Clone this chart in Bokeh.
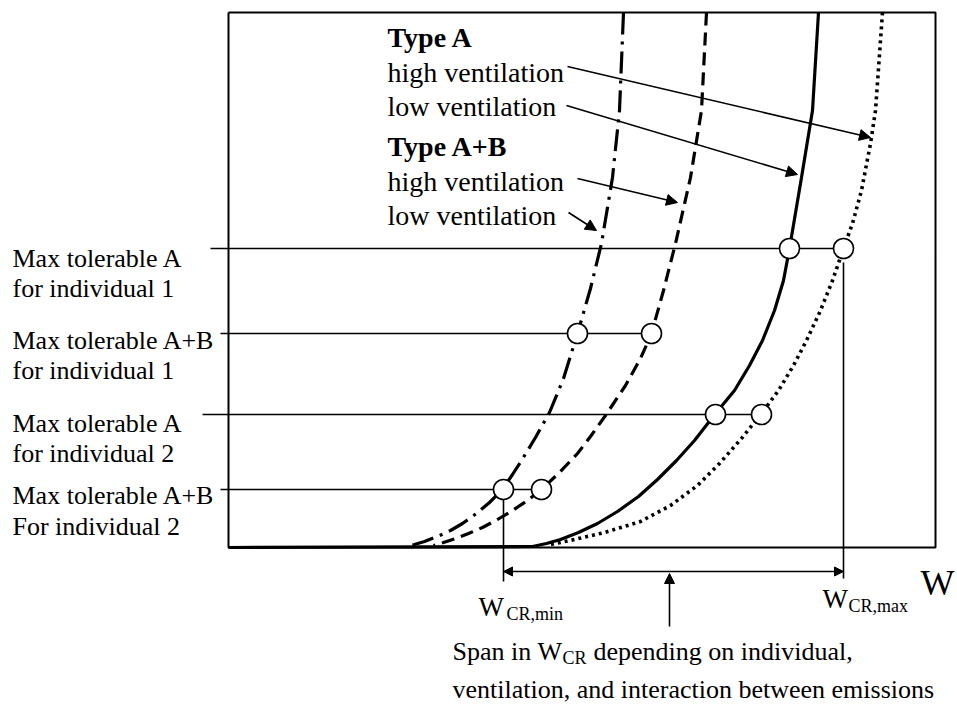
from bokeh.plotting import figure
from bokeh.models import Range1d, Arrow, NormalHead, ColumnDataSource
from bokeh.core.properties import value
from bokeh.embed import file_html
from bokeh.resources import INLINE

# ---------------- values (drawing units, y downward) -------------
frame_x = [228, 935, 935, 228, 228]
frame_y = [12, 12, 547, 547, 12]

# Type A+B, low ventilation (dash-dot)
ab_low_x = [623, 619, 612, 601, 590, 577, 563, 549, 535, 521, 512, 502, 489, 476, 462, 450, 437, 424, 414, 405]
ab_low_y = [12, 110, 177, 243, 288, 333, 378, 412, 437, 460, 474, 489, 502, 513, 523, 530, 536, 541, 544, 546]

# Type A+B, high ventilation (dashed)
ab_high_x = [706, 701, 690, 675, 663, 651, 640, 625, 605, 590, 577, 559, 541, 527, 512, 497, 482, 468, 455, 443, 433]
ab_high_y = [12, 110, 177, 243, 290, 333, 358, 385, 415, 436, 453, 472, 489, 500, 510, 519, 527, 533, 538, 542, 545]

# Type A, low ventilation (solid)
a_low_x = [818, 812, 801, 789, 783, 774, 762, 749, 734, 715, 694, 676, 657, 638, 617, 597, 578, 560, 546, 532, 228]
a_low_y = [12, 110, 177, 248, 280, 310, 340, 365, 390, 413, 440, 460, 479, 496, 511, 523, 532, 539, 543, 546, 547]

# Type A, high ventilation (dotted)
a_high_x = [882, 875, 870, 861, 852, 843, 832, 820, 806, 793, 778, 761, 741, 719, 697, 670, 640, 604, 574, 550]
a_high_y = [12, 110, 143, 190, 223, 248, 280, 310, 340, 365, 390, 413, 438, 463, 485, 505, 521, 532, 539, 544]

# tolerance levels (left labels and horizontal lines)
tol_label_1 = ["Max tolerable A", "Max tolerable A+B", "Max tolerable A", "Max tolerable A+B"]
tol_label_2 = ["for individual 1", "for individual 1", "for individual 2", "For individual 2"]
tol_level = [248, 333, 414, 489]
tol_start = [210, 220, 202, 220]
tol_end = [843, 651, 761, 541]
tol_text_base_1 = [258, 340, 423, 495]
tol_text_base_2 = [288, 370, 453, 526]

# crossings of the tolerance levels with the curves
cross_x = [789, 843, 577, 651, 715, 761, 503, 541]
cross_y = [248, 248, 333, 333, 414, 414, 489, 489]

# legend-like annotation block
legend_text = ["Type A", "high ventilation", "low ventilation", "Type A+B", "high ventilation", "low ventilation"]
legend_base = [37, 72, 106, 146, 181, 215]
legend_bold = [True, False, False, True, False, False]
arrow_from_x = [567, 566, 577, 568]
arrow_from_y = [66, 105, 178, 212]
arrow_to_x = [870, 797, 677, 596]
arrow_to_y = [137, 174, 202, 230]

# critical W span
w_cr_min = 503
w_cr_max = 843
span_level = 571

# ----------------------------------------------------------------------------------------
FONT = value("Liberation Serif")

W_PX, H_PX = 955, 704
p = figure(width=W_PX, height=H_PX, x_range=Range1d(0, W_PX), y_range=Range1d(H_PX, 0),
           output_backend="svg", toolbar_location=None,
           x_axis_location=None, y_axis_location=None, min_border=0)
p.outline_line_color = None
p.grid.grid_line_color = None
p.background_fill_color = "white"
p.border_fill_color = "white"

# frame
p.line(frame_x, frame_y, line_color="black", line_width=2)

# tolerance lines
p.segment(x0=tol_start, y0=tol_level, x1=tol_end, y1=tol_level, line_color="black", line_width=1.6)

# vertical drop lines to W axis
p.segment(x0=[w_cr_min, w_cr_max], y0=[498, 262], x1=[w_cr_min, w_cr_max], y1=[581, 578],
          line_color="black", line_width=1.6)

# curves
p.line(ab_low_x, ab_low_y, line_color="black", line_width=3.2, line_dash="22 7 3 7")
p.line(ab_high_x, ab_high_y, line_color="black", line_width=3.2, line_dash="13 7")
p.line(a_low_x, a_low_y, line_color="black", line_width=3.2)
p.line(a_high_x, a_high_y, line_color="black", line_width=3.6, line_dash="3 4")

# crossing circles
p.scatter(cross_x, cross_y, marker="circle", size=20, fill_color="white",
          line_color="black", line_width=1.6)

# arrows from annotation text to curves
for x0, y0, x1, y1 in zip(arrow_from_x, arrow_from_y, arrow_to_x, arrow_to_y):
    p.add_layout(Arrow(end=NormalHead(size=11, fill_color="black", line_color="black", line_width=1),
                       x_start=x0, y_start=y0, x_end=x1, y_end=y1,
                       line_color="black", line_width=1.6))

# span double arrow
p.add_layout(Arrow(start=NormalHead(size=9, fill_color="black", line_color="black", line_width=1),
                   end=NormalHead(size=9, fill_color="black", line_color="black", line_width=1),
                   x_start=w_cr_min, y_start=span_level, x_end=w_cr_max, y_end=span_level,
                   line_color="black", line_width=1.6))
# pointer to span
p.add_layout(Arrow(end=NormalHead(size=10, fill_color="black", line_color="black", line_width=1),
                   x_start=669, y_start=626, x_end=669, y_end=573,
                   line_color="black", line_width=1.6))

# left labels
left_src = ColumnDataSource(dict(
    x=[12] * 8,
    y=tol_text_base_1 + tol_text_base_2,
    t=tol_label_1 + tol_label_2))
p.text(x="x", y="y", text="t", source=left_src, text_font=FONT, text_font_size="26px",
       text_baseline="alphabetic", text_align="left", text_color="black")

# annotation block
reg = [i for i, b in enumerate(legend_bold) if not b]
bold = [i for i, b in enumerate(legend_bold) if b]
p.text(x=[387] * len(reg), y=[legend_base[i] for i in reg], text=[legend_text[i] for i in reg],
       text_font=FONT, text_font_size="28px", text_baseline="alphabetic", text_color="black")
p.text(x=[387] * len(bold), y=[legend_base[i] for i in bold], text=[legend_text[i] for i in bold],
       text_font=FONT, text_font_style="bold", text_font_size="28px",
       text_baseline="alphabetic", text_color="black")

# axis letter W
p.text(x=[920], y=[582], text=["W"], text_font=FONT, text_font_size="36px",
       text_baseline="alphabetic", text_color="black")

# W_CR,min and W_CR,max
p.text(x=[478, 822], y=[606, 598], text=["W", "W"], text_font=FONT, text_font_size="27px",
       text_baseline="alphabetic", text_color="black")
p.text(x=[506, 848], y=[613, 605], text=["CR,min", "CR,max"], text_font=FONT, text_font_size="18px",
       text_baseline="alphabetic", text_color="black")

# span caption
p.text(x=[452, 537, 593, 452], y=[651, 651, 651, 689],
       text=["Span in", "W", "depending on individual,", "ventilation, and interaction between emissions"],
       text_font=FONT, text_font_size="26px", text_baseline="alphabetic", text_color="black")
p.text(x=[562], y=[657], text=["CR"], text_font=FONT, text_font_size="18px",
       text_baseline="alphabetic", text_color="black")

open("out.html", "w").write(file_html(p, INLINE))
